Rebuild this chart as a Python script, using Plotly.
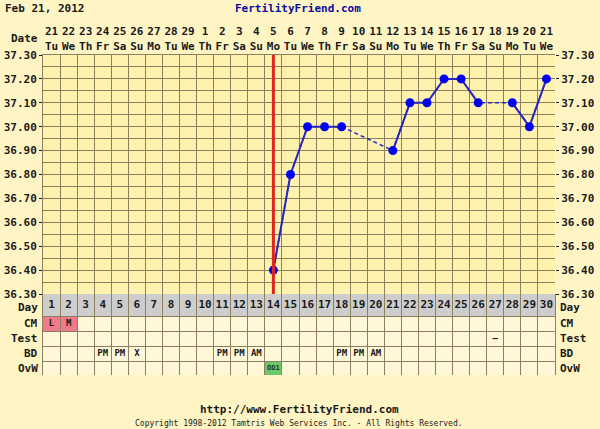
import plotly.graph_objects as go

# ── Chart data ────────────────────────────────────────────────────────────────
days = list(range(1, 31))
dates = [21, 22, 23, 24, 25, 26, 27, 28, 29] + list(range(1, 22))
weekdays = ["Tu", "We", "Th", "Fr", "Sa", "Su", "Mo"] * 4 + ["Tu", "We"]
temps = [None] * 13 + [36.40, 36.80, 37.00, 37.00, 37.00, None, None, 36.90,
                       37.10, 37.10, 37.20, 37.20, 37.10, None, 37.10, 37.00, 37.20]
temp_ticks = [36.30, 36.40, 36.50, 36.60, 36.70, 36.80, 36.90, 37.00, 37.10, 37.20, 37.30]
ovulation_day = 14

cm = {1: "L", 2: "M"}
test = {27: "–"}
bd = {4: "PM", 5: "PM", 6: "X", 11: "PM", 12: "PM", 13: "AM", 18: "PM", 19: "PM", 20: "AM"}
ovw = {14: "OD1"}

# ── Style ─────────────────────────────────────────────────────────────────────
PAGE = "#FFF5C4"
PLOT = "#FFF1AE"
CELL = "#FFF7D8"
DAYROW = "#CDCDCD"
GRID = "#8C805E"
INK = "#1A1A1A"
MONO = "DejaVu Sans Mono"

# rows of the lower table, top to bottom, with heights in y2 units
rows = [("Day", 22), ("CM", 15), ("Test", 15), ("BD", 15), ("OvW", 14)]
total_h = sum(h for _, h in rows)
bounds = {}
top = total_h
for name, h in rows:
    bounds[name] = (top - h, top)
    top -= h
centre = {k: (a + b) / 2 for k, (a, b) in bounds.items()}
edges = sorted({v for ab in bounds.values() for v in ab})

x_lo, x_hi = days[0] - 0.5, days[-1] + 0.5
col_edges = [d - 0.5 for d in days] + [days[-1] + 0.5]

fig = go.Figure()

# dashed line through gaps, solid line between consecutive days
fig.add_trace(go.Scatter(x=days, y=temps, mode="lines", connectgaps=True,
                         line=dict(color="#2828C0", width=1.5, dash="4px,3px"),
                         hoverinfo="skip", showlegend=False))
fig.add_trace(go.Scatter(x=days, y=temps, mode="lines+markers", connectgaps=False,
                         line=dict(color="#2828C0", width=2),
                         marker=dict(color="#0000F0", size=9),
                         showlegend=False))
# helper trace for right-hand temperature axis
fig.add_trace(go.Scatter(x=days, y=temps, yaxis="y3", mode="lines",
                         line=dict(width=0), opacity=0, hoverinfo="skip",
                         showlegend=False))

# table texts
def table_text(entries, row, size, color=INK):
    fig.add_trace(go.Scatter(
        x=list(entries.keys()), y=[centre[row]] * len(entries),
        text=list(entries.values()), mode="text", yaxis="y2",
        textfont=dict(family=MONO, size=size, color=color, weight="bold"),
        hoverinfo="skip", showlegend=False))

table_text({d: str(d) for d in days}, "Day", 11)
table_text(cm, "CM", 9)
table_text(test, "Test", 9)
table_text(bd, "BD", 9)
table_text(ovw, "OvW", 7, "#1A3A1A")

# table backgrounds
shapes = []
for name, (a, b) in bounds.items():
    shapes.append(dict(type="rect", xref="x", yref="y2", x0=x_lo, x1=x_hi, y0=a, y1=b,
                       fillcolor=DAYROW if name == "Day" else CELL,
                       line=dict(width=0), layer="below"))
for d in cm:
    a, b = bounds["CM"]
    shapes.append(dict(type="rect", xref="x", yref="y2", x0=d - 0.5, x1=d + 0.5, y0=a, y1=b,
                       fillcolor="#F07A8A", line=dict(width=0), layer="below"))
for d in ovw:
    a, b = bounds["OvW"]
    shapes.append(dict(type="rect", xref="x", yref="y2", x0=d - 0.5, x1=d + 0.5, y0=a, y1=b,
                       fillcolor="#6CC86C", line=dict(width=0), layer="below"))
# ovulation line
shapes.append(dict(type="line", xref="x", yref="y domain", x0=ovulation_day, x1=ovulation_day,
                   y0=0, y1=1, line=dict(color="#E0261C", width=3), layer="above"))

# annotations: titles, labels, footer
ann = [
    dict(text="Feb 21, 2012", x=0, xshift=-40, y=1.144, xanchor="left",
         font=dict(size=11, color=INK, weight="bold")),
    dict(text="FertilityFriend.com", x=0.5, xshift=-1, y=1.144, xanchor="center",
         font=dict(size=11, color="#0A0AA0", weight="bold")),
    dict(text="Date", x=0, xshift=-3, y=1.053, xanchor="right",
         font=dict(size=11, color=INK, weight="bold")),
    dict(text="http://www.FertilityFriend.com", x=0.5, y=-0.109, xanchor="center",
         font=dict(size=11, color=INK, weight="bold")),
    dict(text="Copyright 1998-2012 Tamtris Web Services Inc. - All Rights Reserved.",
         x=0.5, y=-0.153, xanchor="center", font=dict(size=8, color=INK, weight="normal")),
]
for name, _ in rows:
    yc = centre[name]
    ys = -2 if name == "Day" else 0
    ann.append(dict(text=name, x=0, xshift=-3, y=yc, yshift=ys, yref="y2", xanchor="right",
                    font=dict(size=11, color=INK, weight="bold")))
    ann.append(dict(text=name, x=1, xshift=3, y=yc, yshift=ys, yref="y2", xanchor="left",
                    font=dict(size=11, color=INK, weight="bold")))
for a in ann:
    a.setdefault("xref", "paper")
    a.setdefault("yref", "paper")
    a.update(showarrow=False, yanchor="middle")
    a["font"]["family"] = MONO

split = total_h / 320

fig.update_layout(
    width=600, height=429,
    margin=dict(l=43, r=45, t=55, b=54),
    paper_bgcolor=PAGE, plot_bgcolor=PLOT,
    font=dict(family=MONO, size=11, color=INK, weight="bold"),
    shapes=shapes, annotations=ann,
    xaxis=dict(range=[x_lo, x_hi], side="top", anchor="y", automargin=False,
               tickmode="array", tickvals=days,
               ticktext=[f"{d}<br>{w}" for d, w in zip(dates, weekdays)],
               ticks="", showgrid=False, zeroline=False,
               showline=True, linecolor=GRID, mirror=True,
               minor=dict(tickmode="array", tickvals=col_edges, showgrid=True,
                          gridcolor=GRID, gridwidth=1),
               tickfont=dict(family=MONO, size=11, weight="bold")),
    yaxis=dict(domain=[split, 1], range=[temp_ticks[0], temp_ticks[-1]], automargin=False,
               tickmode="array", tickvals=temp_ticks,
               ticktext=[f"{t:.2f}" for t in temp_ticks],
               ticks="outside", ticklen=3, tickcolor=INK,
               showgrid=True, gridcolor=GRID, zeroline=False,
               showline=True, linecolor=GRID,
               minor=dict(dtick=0.05, tick0=36.30, showgrid=True, gridcolor=GRID),
               tickfont=dict(family=MONO, size=11, weight="bold")),
    yaxis3=dict(overlaying="y", side="right", anchor="x", automargin=False,
                range=[temp_ticks[0], temp_ticks[-1]],
                tickmode="array", tickvals=temp_ticks,
                ticktext=[f"{t:.2f}" for t in temp_ticks],
                ticks="outside", ticklen=3, tickcolor=INK,
                showgrid=False, zeroline=False,
                tickfont=dict(family=MONO, size=11, weight="bold")),
    yaxis2=dict(domain=[0, split], range=[0, total_h], anchor="x", automargin=False,
                tickmode="array", tickvals=edges, showticklabels=False,
                ticks="", showgrid=True, gridcolor=GRID, zeroline=False,
                showline=True, linecolor=GRID, mirror=True),
)

fig.write_html("out.html", config={"displayModeBar": False},
               post_script=f"document.body.style.margin='0';"
                           f"document.body.style.background='{PAGE}';")
